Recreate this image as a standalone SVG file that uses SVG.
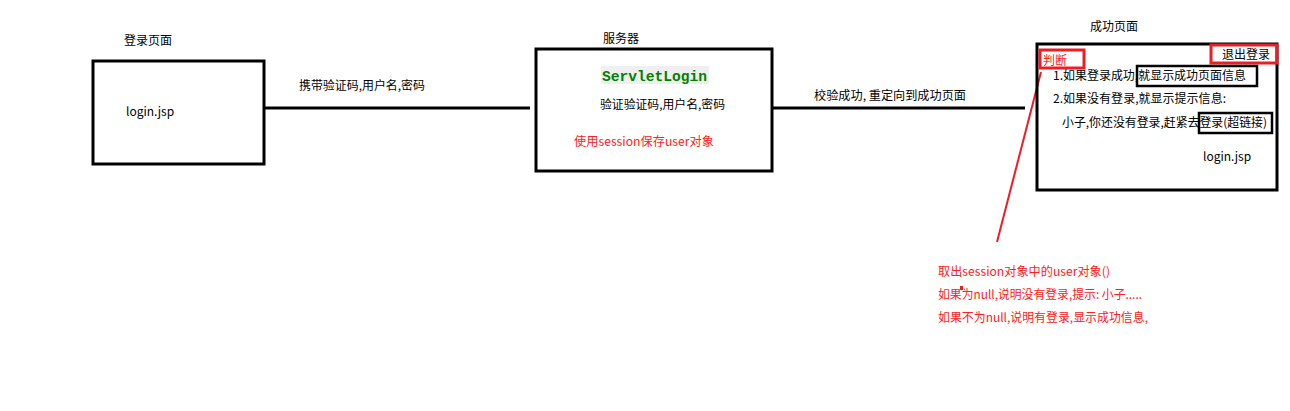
<svg xmlns="http://www.w3.org/2000/svg" width="1290" height="411" viewBox="0 0 1290 411">
<style>
text{font-family:"Noto Sans CJK SC","Microsoft YaHei",sans-serif;font-size:12px;fill:#000}
.red{fill:#ff2020}
.box{fill:none;stroke:#000;stroke-width:3}
.rbox{fill:none;stroke:#ee1c24;stroke-width:3}
.hl{fill:none;stroke:#000;stroke-width:2.5}
.conn{stroke:#000;stroke-width:3;fill:none}
.mono{font-family:"Liberation Mono","DejaVu Sans Mono",monospace;font-weight:bold;font-size:14.6px;fill:#008000}
</style>
<rect width="1290" height="411" fill="#fff"/>
<g id="connectors">
<line class="conn" x1="264" y1="108" x2="530" y2="108"/>
<line class="conn" x1="773" y1="108" x2="1025" y2="108"/>
<line x1="1041" y1="72" x2="997" y2="242" stroke="#ee1c24" stroke-width="2"/>
</g>
<g id="label-carry"><text x="299" y="90" textLength="126" lengthAdjust="spacingAndGlyphs">携带验证码,用户名,密码</text></g>
<g id="label-success"><text x="814" y="100" textLength="152" lengthAdjust="spacingAndGlyphs">校验成功, 重定向到成功页面</text></g>
<g id="login-page">
<text x="124" y="45">登录页面</text>
<rect class="box" x="93" y="61" width="171" height="103"/>
<text x="126" y="116">login.jsp</text>
</g>
<g id="server">
<text x="603" y="43">服务器</text>
<rect class="box" x="536" y="49" width="236" height="122"/>
<rect x="601" y="66" width="108" height="18" fill="#efefef"/>
<text class="mono" x="602" y="81">ServletLogin</text>
<text x="600" y="109" textLength="125" lengthAdjust="spacingAndGlyphs">验证验证码,用户名,密码</text>
<text class="red" x="574" y="146" textLength="140" lengthAdjust="spacingAndGlyphs">使用session保存user对象</text>
</g>
<g id="success-page">
<text x="1090" y="31">成功页面</text>
<rect class="box" x="1037" y="44" width="240" height="146"/>
<rect class="rbox" x="1040" y="50" width="44" height="18"/>
<text class="red" x="1043" y="65">判断</text>
<rect class="rbox" x="1211" y="45" width="66" height="18"/>
<text x="1222" y="59">退出登录</text>
<text x="1053" y="80" textLength="193" lengthAdjust="spacingAndGlyphs">1.如果登录成功,就显示成功页面信息</text>
<rect class="hl" x="1137" y="66" width="120" height="20"/>
<text x="1053" y="103" textLength="173" lengthAdjust="spacingAndGlyphs">2.如果没有登录,就显示提示信息:</text>
<text x="1062" y="127" textLength="205" lengthAdjust="spacingAndGlyphs">小子,你还没有登录,赶紧去登录(超链接)</text>
<rect class="hl" x="1199" y="113" width="73" height="20"/>
<text x="1203" y="161">login.jsp</text>
</g>
<g id="note">
<text class="red" x="938" y="276" textLength="172" lengthAdjust="spacingAndGlyphs">取出session对象中的user对象()</text>
<text class="red" x="938" y="299" textLength="204" lengthAdjust="spacingAndGlyphs">如果为null,说明没有登录,提示: 小子.....</text>
<rect x="960" y="286" width="3" height="4" fill="#ee1c24"/>
<text class="red" x="938" y="322" textLength="210" lengthAdjust="spacingAndGlyphs">如果不为null,说明有登录,显示成功信息,</text>
</g>
</svg>
